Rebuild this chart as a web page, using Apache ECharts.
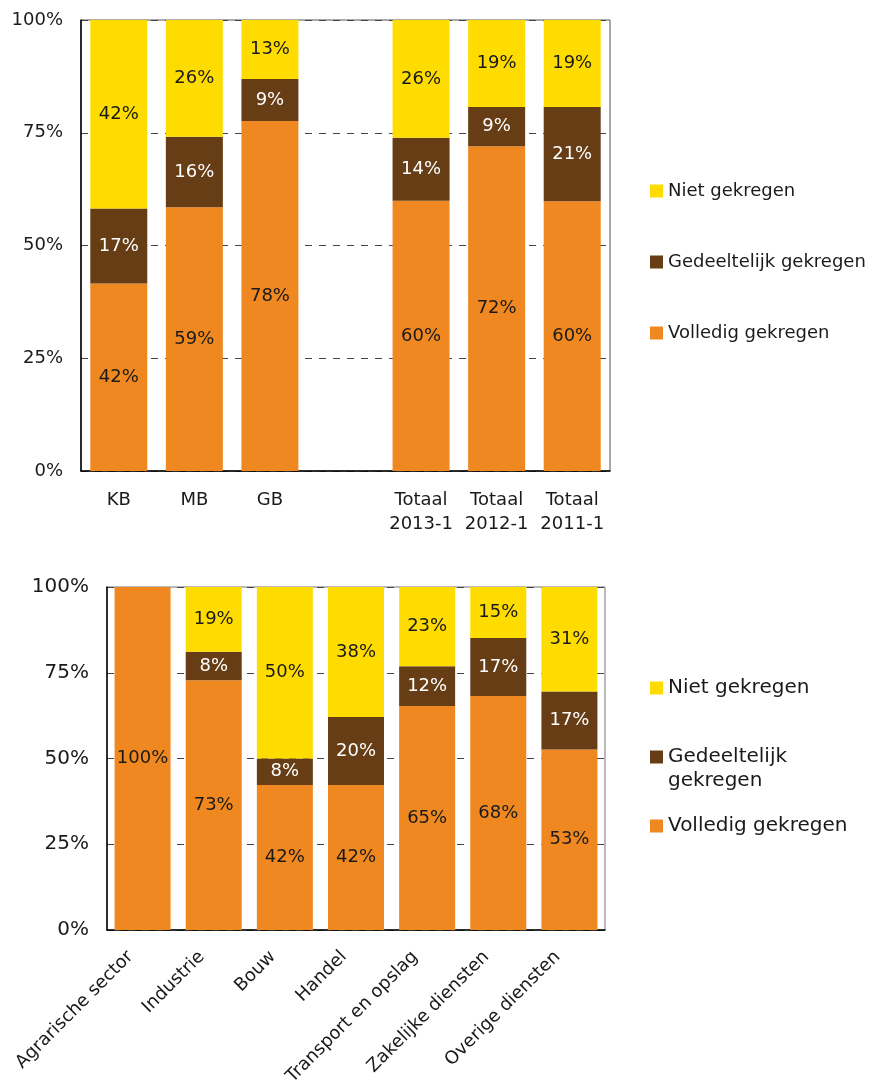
<!DOCTYPE html>
<html>
<head>
<meta charset="utf-8">
<script src="https://cdn.jsdelivr.net/npm/echarts@6/dist/echarts.min.js"></script>
<style>
html, body { margin: 0; padding: 0; background: #fff; }
#chart { width: 872px; height: 1084px; }
</style>
</head>
<body>
<div id="chart"></div>
<script>
// bovenste grafiek: naar bedrijfsgrootte en totaal per jaar
var sizeCats = ['KB', 'MB', 'GB', '', 'Totaal\n2013-1', 'Totaal\n2012-1', 'Totaal\n2011-1'];
var sizeVolledig = [41.6, 58.5, 77.6, '-', 59.9, 72.0, 59.8];
var sizeGedeeltelijk = [16.6, 15.6, 9.3, '-', 14.0, 8.7, 20.9];
var sizeNiet = [41.8, 25.9, 13.1, '-', 26.1, 19.3, 19.3];

// onderste grafiek: naar sector
var sectorCats = ['Agrarische sector', 'Industrie', 'Bouw', 'Handel', 'Transport en opslag', 'Zakelijke diensten', 'Overige diensten'];
var sectorVolledig = [100, 72.8, 42.3, 42.3, 65.3, 68.2, 52.6];
var sectorGedeeltelijk = ['-', 8.3, 7.7, 19.8, 11.6, 16.9, 16.9];
var sectorNiet = ['-', 18.9, 50.0, 37.9, 23.1, 14.9, 30.5];

var yTicks = [0, 25, 50, 75, 100];

var names = ['Volledig gekregen', 'Gedeeltelijk gekregen', 'Niet gekregen'];
var colors = ['#EF8820', '#663D14', '#FFDC00'];
var font = 'DejaVu Sans';
var txt = '#1a1a1a';

var chart = echarts.init(document.getElementById('chart'));

function pctLabel(p) {
	return Math.round(p.value) + '%';
}

function yAxis(idx, size) {
	return {
		gridIndex: idx,
		type: 'value',
		min: yTicks[0],
		max: yTicks[yTicks.length - 1],
		interval: 25,
		axisLine: { show: true, lineStyle: { color: '#000', width: 1.5 } },
		axisTick: { show: false },
		axisLabel: {
			formatter: '{value}%',
			fontFamily: font,
			fontSize: size,
			color: txt,
			margin: 18
		},
		splitLine: { lineStyle: { type: [7, 7], color: '#444' } }
	};
}

function bar(name, data, color, xi, labelColor) {
	return {
		name: name,
		type: 'bar',
		stack: 's' + xi,
		xAxisIndex: xi,
		yAxisIndex: xi,
		data: data,
		barWidth: xi === 0 ? 57 : 56,
		itemStyle: { color: color },
		label: {
			show: true,
			position: 'inside',
			formatter: pctLabel,
			fontFamily: font,
			fontSize: 18,
			color: labelColor
		}
	};
}

function legend(name, top, size, fmt) {
	return {
		data: [name],
		orient: 'vertical',
		left: 650,
		top: top,
		padding: 0,
		itemWidth: 13,
		itemHeight: 13,
		icon: 'rect',
		itemGap: 5,
		formatter: fmt || '{name}',
		textStyle: {
			fontFamily: font,
			fontSize: size,
			color: txt,
			lineHeight: 24
		}
	};
}

var option = {
	animation: false,
	grid: [
		{ left: 81, top: 20, width: 529, height: 451, show: true, borderColor: '#555', borderWidth: 1, outerBoundsMode: 'none' },
		{ left: 107, top: 587, width: 498, height: 343, show: true, borderColor: '#777', borderWidth: 1, outerBoundsMode: 'none' }
	],
	xAxis: [{
		gridIndex: 0,
		type: 'category',
		data: sizeCats,
		axisLine: { lineStyle: { color: '#000', width: 1.5 } },
		axisTick: { show: false },
		axisLabel: { fontFamily: font, fontSize: 18, color: txt, lineHeight: 24, margin: 17, interval: 0 }
	}, {
		gridIndex: 1,
		type: 'category',
		data: sectorCats,
		axisLine: { lineStyle: { color: '#000', width: 1.5 } },
		axisTick: { show: false },
		axisLabel: { fontFamily: font, fontSize: 18, color: txt, rotate: 45, margin: 12, padding: [0, 17, 0, 0], interval: 0 }
	}],
	yAxis: [yAxis(0, 18), yAxis(1, 20)],
	legend: [
		legend(names[2], 179, 18),
		legend(names[1], 250, 18),
		legend(names[0], 321, 18),
		legend(names[2], 676, 20),
		legend(names[1], 721, 20, '\u00a0\nGedeeltelijk\ngekregen'),
		legend(names[0], 814, 20)
	],
	series: [
		bar(names[0], sizeVolledig, colors[0], 0, txt),
		bar(names[1], sizeGedeeltelijk, colors[1], 0, '#fff'),
		bar(names[2], sizeNiet, colors[2], 0, txt),
		bar(names[0], sectorVolledig, colors[0], 1, txt),
		bar(names[1], sectorGedeeltelijk, colors[1], 1, '#fff'),
		bar(names[2], sectorNiet, colors[2], 1, txt)
	]
};

chart.setOption(option);
</script>
</body>
</html>
